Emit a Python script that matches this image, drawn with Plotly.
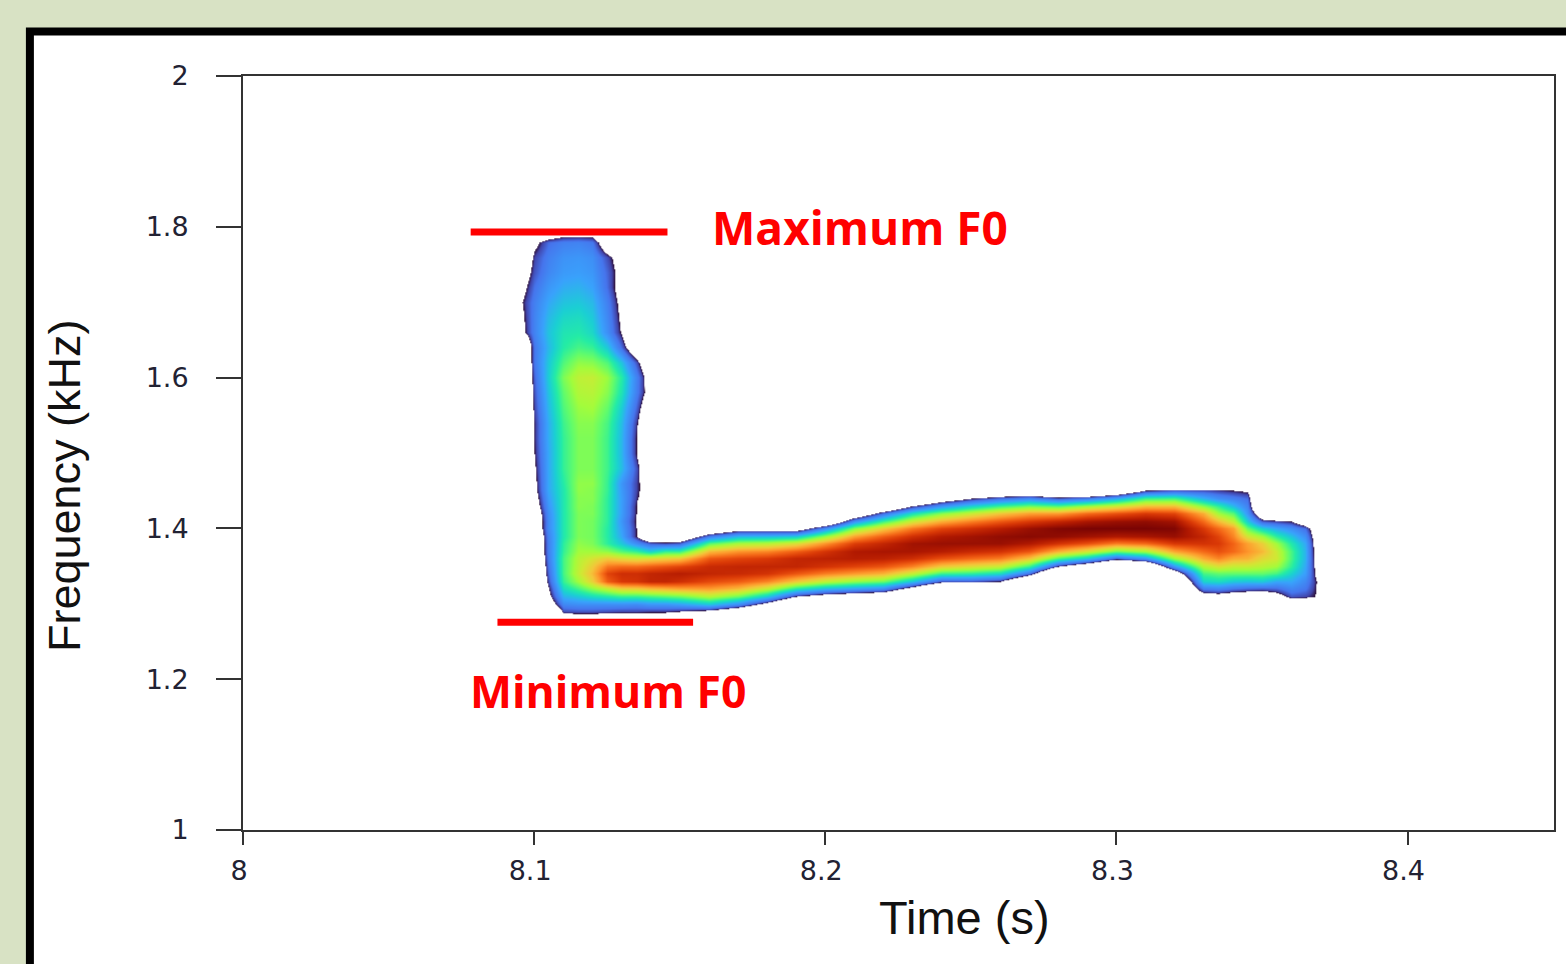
import plotly.graph_objects as go

TIME = [8.095, 8.10, 8.105, 8.11, 8.115, 8.12, 8.125, 8.13, 8.135, 8.14, 8.145, 8.15,
        8.16, 8.17, 8.18, 8.19, 8.20, 8.21, 8.22, 8.23, 8.24, 8.25, 8.26, 8.27, 8.28,
        8.29, 8.30, 8.31, 8.32, 8.33,
        8.335, 8.34, 8.345, 8.35, 8.355, 8.36, 8.365, 8.37, 8.375]
FREQ = [1.28, 1.29, 1.30, 1.31, 1.32, 1.33, 1.34, 1.35, 1.36, 1.37, 1.38, 1.39, 1.40,
        1.41, 1.42, 1.43, 1.44, 1.45, 1.46,
        1.48, 1.50, 1.52, 1.54, 1.56, 1.58, 1.60, 1.62, 1.64, 1.66, 1.68, 1.70, 1.72,
        1.74, 1.76, 1.78, 1.80]

OUT = -40  # outside the voiced region: drawn as white

# Each row: 12 limb columns, 18 band columns, 9 tail columns
LEVEL_LOW = [
    [-40,-40,-40,-14,-14,-14,-14,-14,-14,-14,-14,-14] + [OUT]*18 + [OUT]*9,
    [-40,-40,-40,4,5,5,4,3,3,2,2,0] + [-5,-19] + [OUT]*16 + [OUT]*9,
    [-40,-40,-14,14,16,16,16,16,15,18,18,20] + [27,15,-8] + [OUT]*15 + [-40,-40,-40,-40,-40,-18,-15,-40,-40],
    [-40,-40,-5,24,28,32,35,38,38,40,42,44] + [52,44,28,0,-10,-15,-19,-40,-40,-40,-40,-40,-40,-40,-40,-40,-40,-10] + [-8,-12,-14,-15,-8,5,3,-2,-40],
    [-40,-40,-1,32,40,48,55,62,63,66,68,70] + [71,66,55,36,26,21,16,-7,-34,-32,-34,-40,-40,-40,-40,-40,-40,12] + [14,10,8,7,8,14,10,-4,-40],
    [-40,-40,4,38,50,62,80,86,87,90,90,88] + [83,80,74,63,54,48,44,27,5,5,0,-31,-40,-40,-40,-40,-40,30] + [32,28,27,28,22,22,14,-5,-40],
    [-40,-34,7,40,55,66,84,88,88,90,91,92] + [90,89,87,81,75,71,67,55,39,37,32,9,-40,-40,-40,-40,-15,40] + [43,43,43,43,40,30,20,-12,-40],
    [-40,-34,9,40,54,63,76,78,78,80,82,84] + [89,90,90,90,87,84,81,74,63,59,55,38,0,-18,-40,-32,18,52] + [58,55,55,53,50,37,22,-15,-40],
    [-40,-30,11,40,53,58,63,60,58,60,62,64] + [81,84,86,90,91,92,91,88,82,78,75,64,40,27,6,17,49,68] + [74,68,67,60,57,40,24,-18,-40],
    [-40,-28,12,38,50,50,48,42,38,30,38,38] + [66,72,74,80,87,93,94,94,92,89,87,81,67,57,44,50,69,78] + [82,78,72,66,56,40,24,-20,-40],
    [-40,-27,12,37,48,46,37,28,16,6,4,6] + [42,51,53,59,72,85,90,95,96,96,96,93,87,82,75,78,86,87] + [86,79,70,62,50,35,22,-20,-40],
    [-40,-25,13,35,46,45,36,22,0,-22,-24,-22] + [12,25,26,29,49,70,80,88,93,95,97,98,97,95,93,94,96,90] + [84,74,58,50,37,27,16,-20,-40],
    [-40,-20,15,35,46,45,36,20,0,-40,-40,-40] + [-26,-10,-10,-12,16,47,63,76,84,88,92,96,99,100,100,100,99,86] + [78,70,44,30,22,16,8,-20,-40],
    [-40,-20,15,35,46,45,37,18,-1,-40,-40,-40] + [-40,-40,-40,-40,-26,17,39,57,68,75,81,86,90,94,96,97,95,78] + [66,55,29,6,3,0,-14,-40,-40],
    [-40,-16,16,35,46,46,37,20,0,-40,-40,-40] + [-40,-40,-40,-40,-40,-21,9,33,47,56,64,70,71,78,82,86,84,68] + [50,42,18,-18,-25,-30,-40,-40,-40],
    [-40,-11,18,35,47,46,37,20,0,-40,-40,-40] + [-40,-40,-40,-40,-40,-40,-27,2,19,31,40,46,43,51,58,66,66,48] + [38,26,13,-40,-40,-40,-40,-40,-40],
    [-40,-8,20,35,47,47,37,20,2,-14,-40,-40] + [-40,-40,-40,-40,-40,-40,-40,-34,-14,0,9,15,6,12,23,39,40,24] + [16,12,8,-40,-40,-40,-40,-40,-40],
    [-40,-5,22,35,48,47,38,19,3,-11,-40,-40] + [-40,-40,-40,-40,-40,-40,-40,-40,-40,-40,-30,-27,-40,-40,-26,0,5,4] + [2,0,-2,-40,-40,-40,-40,-40,-40],
    [-40,-4,22,36,48,48,38,18,3,-11,-40,-40] + [OUT]*16 + [-33,-30] + [-30,-35,-40,-40,-40,-40,-40,-40,-40],
]
LEVEL_LIMB = [
    [-40,-2,22,38,46,46,39,26,5,-21,-40,-40],
    [-40,0,22,38,46,46,39,25,0,-24,-40,-40],
    [-40,1,23,38,46,46,39,25,0,-24,-40,-40],
    [-40,1,23,39,47,47,40,26,2,-24,-40,-40],
    [-40,3,25,41,49,50,43,29,7,-18,-40,-40],
    [-40,5,27,43,52,53,47,34,12,-9,-40,-40],
    [-40,7,29,46,54,55,49,36,13,-10,-40,-40],
    [-40,10,28,41,48,47,41,27,5,-20,-40,-40],
    [-40,10,25,36,40,38,28,8,-18,-40,-40,-40],
    [-8,13,27,34,35,31,16,-1,-30,-40,-40,-40],
    [-6,13,25,31,32,28,14,-3,-30,-40,-40,-40],
    [-3,12,22,27,28,25,12,-5,-30,-40,-40,-40],
    [-8,9,18,23,24,21,8,-8,-30,-40,-40,-40],
    [-14,5,14,19,20,18,7,-6,-30,-40,-40,-40],
    [-24,3,12,17,18,16,4,-8,-40,-40,-40,-40],
    [-40,-4,8,12,13,10,-15,-40,-40,-40,-40,-40],
    [-40,-40,-30,-20,-20,-18,-40,-40,-40,-40,-40,-40],
]
LEVELS = LEVEL_LOW + [row + [OUT]*27 for row in LEVEL_LIMB]

X_TICKS = [8, 8.1, 8.2, 8.3, 8.4]
X_LABELS = ["8", "8.1", "8.2", "8.3", "8.4"]
Y_TICKS = [1, 1.2, 1.4, 1.6, 1.8, 2]
Y_LABELS = ["1", "1.2", "1.4", "1.6", "1.8", "2"]

MAX_LINE_T = [8.0782, 8.1458]
MAX_LINE_F = [1.793, 1.793]
MIN_LINE_T = [8.0874, 8.1546]
MIN_LINE_F = [1.2755, 1.2755]

# Level at which each colour of the ramp is reached
RAMP_LEVELS = [0, 3, 9, 21, 29, 36, 43, 50, 57, 64, 71, 79, 86, 93, 100]
TURBO = ['#30123b', '#4145ab', '#4675ed', '#39a2fc', '#1bcfd4', '#24eca6', '#61fc6c', '#a4fc3b',
         '#d1e834', '#f3c63a', '#fe9b2d', '#f36315', '#d93806', '#b11901', '#7a0403']
ZMIN, ZMAX = -40, 100
zero = (0 - ZMIN) / (ZMAX - ZMIN)
scale = [[0, 'white'], [zero - 0.0005, 'white']]
for lvl, c in zip(RAMP_LEVELS, TURBO):
    scale.append([(lvl - ZMIN) / (ZMAX - ZMIN), c])

W, H = 1566, 964
L, R, T, B = 242.5, 1556, 75.5, 830
px = lambda v: (v - L) / (R - L)
py = lambda v: (B - v) / (B - T)

fig = go.Figure()
fig.add_trace(go.Heatmap(x=TIME, y=FREQ, z=LEVELS, zmin=ZMIN, zmax=ZMAX, colorscale=scale,
                         zsmooth='best', showscale=False, hoverinfo='skip'))
RED = '#ff0000'
for tt, ff in ((MAX_LINE_T, MAX_LINE_F), (MIN_LINE_T, MIN_LINE_F)):
    fig.add_trace(go.Scatter(x=tt, y=ff, mode='lines', line=dict(color=RED, width=7),
                             showlegend=False, hoverinfo='skip'))

INK = '#333333'
fig.update_layout(
    width=W, height=H, autosize=False,
    margin=dict(l=L, r=W - R, t=T, b=H - B, pad=0),
    paper_bgcolor='#d8e2c4', plot_bgcolor='white', showlegend=False,
    xaxis=dict(range=[8, 8.4503], tickmode='array', tickvals=X_TICKS, ticktext=X_LABELS,
               ticks='outside', ticklen=13, tickwidth=2, tickcolor=INK, showgrid=False, zeroline=False,
               showline=True, linecolor=INK, linewidth=1.5, mirror=True, ticklabelstandoff=3,
               ticklabelshift=-4,
               tickfont=dict(family='DejaVu Sans', size=27, color='#222233')),
    yaxis=dict(range=[1, 2], tickmode='array', tickvals=Y_TICKS, ticktext=Y_LABELS,
               ticks='outside', ticklen=25, tickwidth=1.5, tickcolor=INK, showgrid=False, zeroline=False,
               showline=True, linecolor=INK, linewidth=2, mirror=True, ticklabelstandoff=22,
               tickfont=dict(family='DejaVu Sans', size=27, color='#222233')),
    shapes=[
        dict(type='rect', xref='paper', yref='paper', x0=px(25), x1=px(W + 5), y0=py(H + 5), y1=py(27),
             fillcolor='black', line_width=0, layer='below'),
        dict(type='rect', xref='paper', yref='paper', x0=px(33), x1=px(W + 5), y0=py(H + 5), y1=py(35),
             fillcolor='white', line_width=0, layer='below'),
    ],
    annotations=[
        dict(text='Time (s)', xref='paper', yref='paper', x=px(965), y=py(918), showarrow=False,
             xanchor='center', yanchor='middle', font=dict(family='Liberation Sans', size=47, color='#111111')),
        dict(text='Frequency (kHz)', xref='paper', yref='paper', x=px(63), y=py(485), showarrow=False,
             textangle=-90, xanchor='center', yanchor='middle',
             font=dict(family='Liberation Sans', size=45, color='#111111')),
        dict(text='<b>Maximum F0</b>', xref='paper', yref='paper', x=px(861), y=py(227), showarrow=False,
             xanchor='center', yanchor='middle', font=dict(family='Open Sans', size=46, color=RED)),
        dict(text='<b>Minimum F0</b>', xref='paper', yref='paper', x=px(608), y=py(690), showarrow=False,
             xanchor='center', yanchor='middle', font=dict(family='Open Sans', size=44.5, color=RED)),
    ],
)
fig.write_html("out.html", config={'displayModeBar': False},
               post_script="document.body.style.margin='0';document.body.style.overflow='hidden';")
